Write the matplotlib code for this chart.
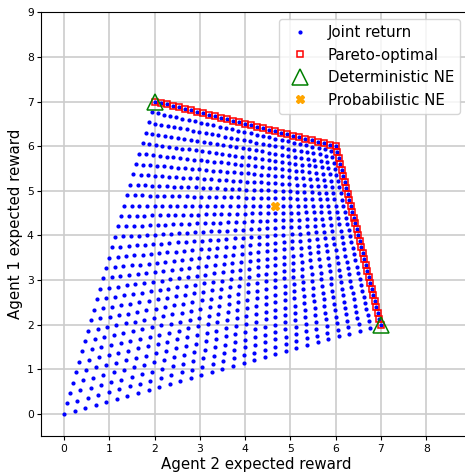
"""Joint expected rewards of a 2x2 game of chicken under mixed strategies."""

import numpy as np
import matplotlib
matplotlib.use("Agg")
import matplotlib.pyplot as plt

# payoff tables, rows = agent 1 action, cols = agent 2 action
agent1_payoff = np.array([[6, 2],
                          [7, 0]])
agent2_payoff = np.array([[6, 7],
                          [2, 0]])

# probability of the first action, sampled on a regular grid
n_probs = 31

det_ne_x = [2, 7]          # agent 2 reward
det_ne_y = [7, 2]          # agent 1 reward
prob_ne_x = [14 / 3]
prob_ne_y = [14 / 3]

x_ticks = list(range(0, 9))
y_ticks = list(range(0, 10))


def joint_returns(pay1, pay2, n):
    probs = np.linspace(0.0, 1.0, n)
    r1, r2 = [], []
    for p in probs:
        for q in probs:
            s1 = np.array([p, 1 - p])
            s2 = np.array([q, 1 - q])
            r1.append(s1 @ pay1 @ s2)
            r2.append(s1 @ pay2 @ s2)
    return np.array(r1), np.array(r2)


def pareto_mask(xs, ys, eps=1e-9):
    mask = np.ones(len(xs), dtype=bool)
    for i in range(len(xs)):
        ge = (xs >= xs[i] - eps) & (ys >= ys[i] - eps)
        gt = (xs > xs[i] + eps) | (ys > ys[i] + eps)
        if np.any(ge & gt):
            mask[i] = False
    return mask


r1, r2 = joint_returns(agent1_payoff, agent2_payoff, n_probs)
front = pareto_mask(r2, r1)

fig = plt.figure(figsize=(4.65, 4.72), dpi=100)
ax = fig.add_axes([0.089, 0.076, 0.925, 0.898])

ax.plot(r2, r1, ".", color="blue", markersize=4.0, linestyle="none",
        label="Joint return", zorder=3, snap=False)
ax.plot(r2[front], r1[front], "s", markerfacecolor="none",
        markeredgecolor="red", markersize=4.8, markeredgewidth=1.1,
        linestyle="none", label="Pareto-optimal", zorder=4, snap=False)
ax.plot(det_ne_x, det_ne_y, "^", markerfacecolor="none",
        markeredgecolor="green", markersize=11, markeredgewidth=1.1,
        linestyle="none", label="Deterministic NE", zorder=5)
ax.plot(prob_ne_x, prob_ne_y, "X", color="orange", markersize=5.5,
        linestyle="none", label="Probabilistic NE", zorder=5)

ax.set_xlim(-0.5, 9)
ax.set_ylim(-0.5, 9)
ax.set_xticks(x_ticks)
ax.set_yticks(y_ticks)
ax.tick_params(labelsize=7.75, length=3, pad=2.5)
ax.grid(True, color="#cccccc", linewidth=1.2, zorder=0)
ax.set_axisbelow(True)

ax.set_xlabel("Agent 2 expected reward", fontsize=10.85, labelpad=2)
ax.set_ylabel("Agent 1 expected reward", fontsize=10.85, labelpad=3)

ax.legend(loc="upper right", fontsize=10.85,
          bbox_to_anchor=(460 / 465, (472 - 19) / 472),
          bbox_transform=fig.transFigure, borderaxespad=0)

fig.savefig("out.png", dpi=100)
